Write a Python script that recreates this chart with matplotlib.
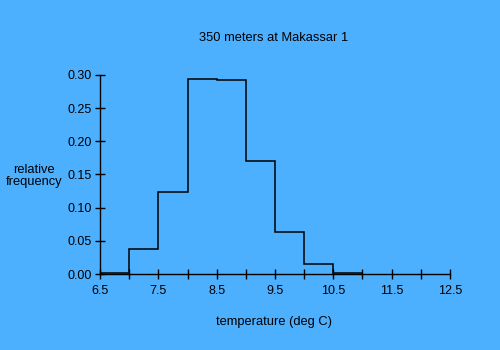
import matplotlib
matplotlib.use("Agg")
import matplotlib.pyplot as plt
import numpy as np

bin_edges = [6.5, 7.0, 7.5, 8.0, 8.5, 9.0, 9.5, 10.0, 10.5, 11.0]
frequency = [0.001, 0.037, 0.123, 0.294, 0.292, 0.171, 0.063, 0.015, 0.001]
x_ticks = [6.5, 7.0, 7.5, 8.0, 8.5, 9.0, 9.5, 10.0, 10.5, 11.0, 11.5, 12.0, 12.5]
x_labels = ["6.5", "", "7.5", "", "8.5", "", "9.5", "", "10.5", "", "11.5", "", "12.5"]
y_ticks = [0.00, 0.05, 0.10, 0.15, 0.20, 0.25, 0.30]
y_labels = ["0.00", "0.05", "0.10", "0.15", "0.20", "0.25", "0.30"]

bg = "#4DB0FF"
plt.rcParams['font.family'] = ['Liberation Sans', 'DejaVu Sans']

fig = plt.figure(figsize=(5, 3.5), dpi=100, facecolor=bg)
ax = fig.add_axes([0.2, 0.217, 0.7, 0.569])
ax.set_facecolor(bg)

ax.stairs(frequency, bin_edges, baseline=None, color="black", linewidth=1.1, clip_on=False)

ax.set_xlim(6.5, 12.5)
ax.set_ylim(0, 0.30)
ax.set_xticks(x_ticks)
ax.set_xticklabels(x_labels)
ax.set_yticks(y_ticks)
ax.set_yticklabels(y_labels)
for s in ["top", "right"]:
    ax.spines[s].set_visible(False)
for s in ["left", "bottom"]:
    ax.spines[s].set_linewidth(1.0)
ax.tick_params(direction="inout", length=7, width=1.0, labelsize=9, colors="black")
ax.tick_params(axis="x", pad=4.5)
ax.tick_params(axis="y", pad=2.5)

fig.text(0.547, 0.891, "350 meters at Makassar 1", ha="center", va="center", fontsize=9.3)
fig.text(0.549, 0.08, "temperature (deg C)", ha="center", va="center", fontsize=9.3)
fig.text(0.068, 0.497, "relative\nfrequency", ha="center", va="center", fontsize=9.3, linespacing=1.1)

fig.savefig("out.png", dpi=100, facecolor=bg)
